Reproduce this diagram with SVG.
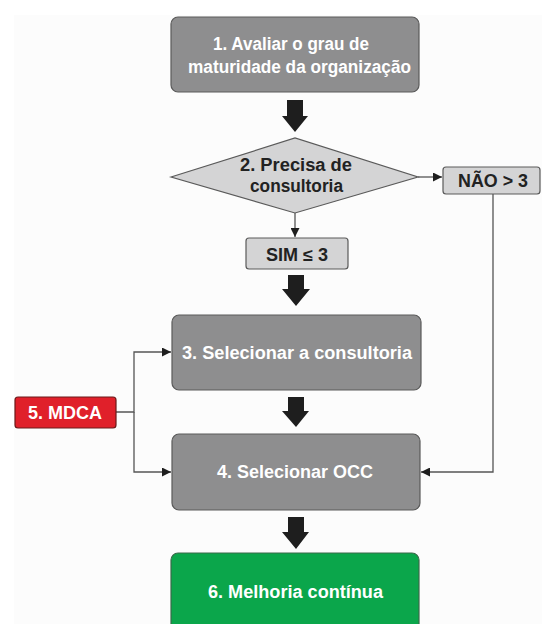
<svg xmlns="http://www.w3.org/2000/svg" width="542" height="624" viewBox="0 0 542 624">
<style>
.bg{fill:#ffffff}
.box{fill:#8e8e8f;stroke:#5a5a5a;stroke-width:1.2}
.lt{fill:#d4d4d5;stroke:#5a5a5a;stroke-width:1.2}
.red{fill:#e0202a;stroke:#6a1a1a;stroke-width:1.2}
.grn{fill:#0ba64b;stroke:#3a6a4a;stroke-width:1.2}
.tw{font-family:"Liberation Sans",Arial,sans-serif;font-weight:bold;font-size:17.5px;fill:#ffffff;text-anchor:middle}
.tb{font-family:"Liberation Sans",Arial,sans-serif;font-weight:bold;font-size:17.5px;fill:#222222;text-anchor:middle}
.ln{fill:none;stroke:#555555;stroke-width:1.3}
.fat{fill:#1e1e1e}
</style>
<defs>
<marker id="ah" viewBox="0 0 10 10" refX="10" refY="5" markerWidth="9" markerHeight="9" markerUnits="userSpaceOnUse" orient="auto">
<path d="M0,0 L10,5 L0,10 z" fill="#1e1e1e"/>
</marker>
</defs>
<rect class="bg" x="0" y="0" width="542" height="624"/>
<rect x="14" y="15" width="528" height="609" fill="#fcfcfc"/>
<g id="connectors">
<path class="fat" d="M287,100 H303 V116 H308 L295,132 L282,116 H287 Z"/>
<path class="fat" d="M288,275 H304 V289 H310 L296,306 L282,289 H288 Z"/>
<path class="fat" d="M288,397 H304 V411 H309 L296,427 L282,411 H288 Z"/>
<path class="fat" d="M288,517 H304 V532 H309 L296,549 L282,532 H288 Z"/>
<line class="ln" x1="295" y1="213" x2="295" y2="237" marker-end="url(#ah)"/>
<line class="ln" x1="418" y1="177" x2="442" y2="177" marker-end="url(#ah)"/>
<polyline class="ln" points="493,193 493,472 421,472" marker-end="url(#ah)"/>
<polyline class="ln" points="116,412 134,412 134,352 171,352" marker-end="url(#ah)"/>
<polyline class="ln" points="134,412 134,472 171,472" marker-end="url(#ah)"/>
</g>
<g id="n1">
<rect class="box" x="171" y="17" width="248" height="75" rx="7"/>
<text class="tw" x="291" y="50" textLength="156" lengthAdjust="spacingAndGlyphs">1. Avaliar o grau de</text>
<text class="tw" x="299.5" y="73" textLength="223" lengthAdjust="spacingAndGlyphs">maturidade da organização</text>
</g>
<g id="n2">
<polygon class="lt" points="171,177 295,138 418,177 295,213"/>
<text class="tb" x="296" y="171" textLength="112" lengthAdjust="spacingAndGlyphs">2. Precisa de</text>
<text class="tb" x="296.5" y="192" textLength="93" lengthAdjust="spacingAndGlyphs">consultoria</text>
</g>
<g id="nao">
<rect class="lt" x="443" y="167" width="97" height="27" rx="3"/>
<text class="tb" x="493" y="187" textLength="70" lengthAdjust="spacingAndGlyphs">NÃO &gt; 3</text>
</g>
<g id="sim">
<rect class="lt" x="246" y="238" width="102" height="31" rx="3"/>
<text class="tb" x="297" y="261" textLength="62" lengthAdjust="spacingAndGlyphs">SIM ≤ 3</text>
</g>
<g id="n3">
<rect class="box" x="172" y="315" width="249" height="75" rx="7"/>
<text class="tw" x="297" y="359" textLength="230" lengthAdjust="spacingAndGlyphs">3. Selecionar a consultoria</text>
</g>
<g id="n4">
<rect class="box" x="172" y="434" width="248" height="76" rx="7"/>
<text class="tw" x="295" y="478" textLength="156" lengthAdjust="spacingAndGlyphs">4. Selecionar OCC</text>
</g>
<g id="n5">
<rect class="red" x="15" y="397" width="101" height="31" rx="3"/>
<text class="tw" x="65" y="419" textLength="74" lengthAdjust="spacingAndGlyphs">5. MDCA</text>
</g>
<g id="n6">
<rect class="grn" x="171" y="553" width="248" height="80" rx="7"/>
<text class="tw" x="295.5" y="598" textLength="175" lengthAdjust="spacingAndGlyphs">6. Melhoria contínua</text>
</g>
</svg>
